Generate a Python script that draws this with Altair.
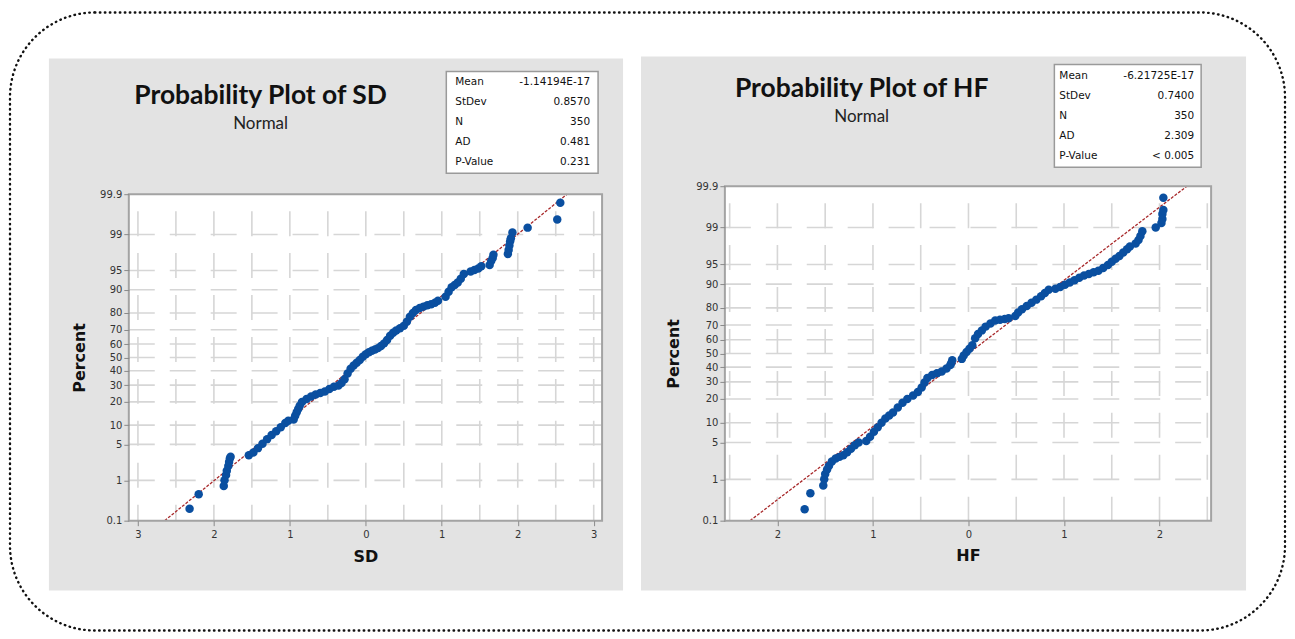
import altair as alt
import pandas as pd
from statistics import NormalDist

# ---------------- data ----------------
percent_ticks = [0.1, 1, 5, 10, 20, 30, 40, 50, 60, 70, 80, 90, 95, 99, 99.9]
grid_percents = [1, 5, 10, 20, 30, 40, 50, 60, 70, 80, 90, 95, 99]

sd_x_ticks = [-3, -2, -1, 0, 1, 2, 3]
sd_x_grid = [-3, -2.5, -2, -1.5, -1, -0.5, 0, 0.5, 1, 1.5, 2, 2.5, 3]
hf_x_ticks = [-2, -1, 0, 1, 2]
hf_x_grid = [-2.5, -2, -1.5, -1, -0.5, 0, 0.5, 1, 1.5, 2, 2.5]

stat_labels = ["Mean", "StDev", "N", "AD", "P-Value"]
sd_stat_values = ["-1.14194E-17", "0.8570", "350", "0.481", "0.231"]
hf_stat_values = ["-6.21725E-17", "0.7400", "350", "2.309", "< 0.005"]
sd_mean, sd_stdev = -1.14194e-17, 0.8570
hf_mean, hf_stdev = -6.21725e-17, 0.7400

sd_values = [
    -2.32, -2.20,
    -1.87, -1.86, -1.84, -1.83, -1.81, -1.80, -1.79, -1.78,
    -1.54, -1.48, -1.42, -1.36, -1.30, -1.24, -1.18, -1.12, -1.06, -1.02,
    -0.95, -0.93, -0.91, -0.89, -0.87, -0.84,
    -0.78, -0.72, -0.66, -0.60, -0.54, -0.48, -0.42, -0.36,
    -0.32, -0.28, -0.24, -0.20, -0.16, -0.12, -0.08, -0.04, 0.00,
    0.04, 0.08, 0.12, 0.16, 0.20, 0.24,
    0.28, 0.32, 0.36, 0.40, 0.45, 0.50, 0.54, 0.58, 0.62,
    0.66, 0.71, 0.76, 0.81, 0.86, 0.91, 0.95,
    1.05, 1.09, 1.13, 1.17, 1.21, 1.25, 1.29,
    1.38, 1.43, 1.48, 1.52,
    1.63, 1.65, 1.67, 1.68,
    1.87, 1.88, 1.89, 1.90, 1.91, 1.93,
    2.13, 2.52, 2.56,
]
sd_percents = [
    0.21, 0.48,
    0.75, 1.0, 1.3, 1.6, 2.0, 2.4, 2.8, 3.0,
    3.2, 3.6, 4.3, 5.1, 6.1, 7.1, 8.1, 9.3, 10.7, 11.5,
    12.0, 13.5, 15.0, 16.5, 18.0, 20.0,
    21.6, 23.0, 24.2, 25.0, 26.0, 27.5, 29.0, 29.8,
    31.5, 34.0, 38.0, 41.5, 44.0, 46.0, 48.0, 50.5, 52.5,
    54.0, 55.0, 56.0, 57.0, 58.5, 60.5,
    63.0, 66.0, 68.0, 69.5, 71.0, 72.5, 75.0, 78.0, 80.0,
    81.5, 82.5, 83.2, 83.8, 84.3, 85.0, 85.8,
    87.5, 89.3, 90.8, 91.5, 92.2, 93.2, 94.3,
    94.8, 95.1, 95.4, 95.8,
    96.0, 96.6, 97.0, 97.4,
    97.5, 97.9, 98.3, 98.6, 98.8, 99.1,
    99.3, 99.55, 99.83,
]

hf_values = [
    -1.715, -1.655,
    -1.52, -1.51, -1.50, -1.48, -1.46,
    -1.43, -1.39, -1.35, -1.31, -1.27, -1.23, -1.19, -1.15,
    -1.07, -1.03, -0.99, -0.95, -0.91,
    -0.87, -0.83, -0.79, -0.74, -0.69, -0.64, -0.58, -0.53,
    -0.49, -0.46, -0.43,
    -0.38, -0.33, -0.28, -0.23, -0.19,
    -0.18, -0.17,
    -0.07, -0.05, -0.02, 0.01, 0.04,
    0.07, 0.10, 0.14, 0.18, 0.23, 0.28,
    0.33, 0.38, 0.42,
    0.49, 0.52, 0.56, 0.61, 0.66, 0.71, 0.76, 0.80, 0.84,
    0.91, 0.96, 1.01, 1.06, 1.11, 1.16, 1.21,
    1.26, 1.31, 1.36, 1.41, 1.46, 1.50, 1.54,
    1.58, 1.62, 1.66, 1.69,
    1.75, 1.78, 1.80, 1.82,
    1.96, 2.02, 2.03, 2.03, 2.04, 2.04,
]
hf_percents = [
    0.20, 0.49,
    0.73, 1.0, 1.3, 1.6, 1.9,
    2.3, 2.6, 2.8, 3.0, 3.4, 3.9, 4.5, 5.0,
    5.3, 6.2, 7.4, 8.6, 10.0,
    11.5, 12.6, 13.8, 15.9, 18.1, 20.0, 21.8, 23.8,
    26.5, 29.5, 32.5,
    34.5, 35.8, 37.0, 39.0, 41.5,
    43.0, 45.0,
    46.0, 48.5, 51.0, 53.5, 56.0,
    61.0, 64.0, 66.5, 69.0, 71.0, 72.8,
    73.3, 73.8, 74.2,
    75.5, 77.5, 79.3, 81.0, 82.6, 84.0, 85.5, 86.8, 88.0,
    88.4, 89.0, 89.8, 90.5, 91.2, 91.9, 92.5,
    92.9, 93.3, 93.7, 94.3, 94.9, 95.5, 96.0,
    96.4, 96.9, 97.3, 97.6,
    97.9, 98.2, 98.5, 98.8,
    99.0, 99.2, 99.35, 99.5, 99.6, 99.8,
]

# ---------------- styling ----------------
PANEL_GRAY = "#e3e3e3"
POINT_BLUE = "#0a4fa0"
LINE_RED = "#a8282a"
GRID = "#d6d6d6"
FRAME = "#a3a3a3"
LABEL_FONT = "DejaVu Sans"
TITLE_FONT = "Lato"

Z_TOP = NormalDist().inv_cdf(0.999) + 1e-9
Z_BOT = NormalDist().inv_cdf(0.001) - 1e-9
y_tick_z = [NormalDist().inv_cdf(round(p / 100.0, 6)) for p in percent_ticks]
H = 335


def one_row():
    return pd.DataFrame({"k": [0]})


def text_layer(txt, x, y, size, weight="normal", align="center", font=LABEL_FONT, color="#111111"):
    return alt.Chart(one_row()).mark_text(
        text=txt, font=font, fontSize=size, fontWeight=weight, align=align,
        baseline="middle", color=color,
    ).encode(x=alt.value(x), y=alt.value(y))


def rect_layer(x, x2, y, y2, **kw):
    return alt.Chart(one_row()).mark_rect(**kw).encode(
        x=alt.value(x), x2=alt.value(x2), y=alt.value(y), y2=alt.value(y2)
    )


def panel(cfg):
    w = cfg["w"]
    ytop = cfg["ytop"]
    xaxis = alt.Axis(
        values=cfg["xticks"], labelExpr="toString(abs(datum.value))", grid=False, domain=False,
        tickColor="#8a8a8a", tickSize=5, tickWidth=1, labelFont=LABEL_FONT, labelFontSize=10,
        labelColor="#333333", labelPadding=4, labelFlush=False, labelOverlap=False,
        title=cfg["name"], titleFont=LABEL_FONT, titleFontSize=16, titleFontWeight="bold",
        titleColor="#111111", titlePadding=cfg["xtp"], zindex=1,
    )
    yaxis = alt.Axis(
        values=y_tick_z, labelExpr="toString(round(cumulativeNormal(datum.value) * 1000) / 10)",
        grid=False, domain=False, tickColor="#8a8a8a", tickSize=5, tickWidth=1,
        labelFont=LABEL_FONT, labelFontSize=10, labelColor="#333333", labelPadding=2,
        labelFlush=False, labelOverlap=False,
        title="Percent", titleFont=LABEL_FONT, titleFontSize=16, titleFontWeight="bold",
        titleColor="#111111", titlePadding=cfg["ytp"], zindex=1,
    )
    X = alt.X("x:Q", scale=alt.Scale(domain=cfg["xdom"], nice=False, zero=False), axis=xaxis)
    Y = alt.Y("z:Q", scale=alt.Scale(domain=[Z_BOT, Z_TOP], range=[H, ytop], nice=False, zero=False),
              axis=yaxis)

    layers = []
    if cfg.get("border"):
        bx, bx2, by, by2 = cfg["border"]
        layers.append(rect_layer(bx, bx2, by, by2, fillOpacity=0, stroke="#111111", strokeWidth=2.4,
                                 strokeDash=[0.5, 4.5], strokeCap="round", cornerRadius=85))
    gx, gx2, gy, gy2 = cfg["gray"]
    layers.append(rect_layer(gx, gx2, gy, gy2, color=PANEL_GRAY))
    layers.append(rect_layer(0, w, ytop, H, color="white"))

    hgrid = alt.Chart(pd.DataFrame({"percent": grid_percents})).transform_calculate(
        z="quantileNormal(datum.percent / 100)"
    ).mark_rule(color=GRID, strokeWidth=1.6, strokeDash=[26, 15]).encode(
        y=Y, x=alt.value(0), x2=alt.value(w)
    )
    vgrid = alt.Chart(pd.DataFrame({"x": cfg["xgrid"]})).mark_rule(
        color=GRID, strokeWidth=1.6, strokeDash=[25, 17], strokeDashOffset=25
    ).encode(x=X, y=alt.value(ytop), y2=alt.value(H))
    layers += [hgrid, vgrid]

    fit = alt.Chart(pd.DataFrame({"percent": [0.1, 99.9]})).transform_calculate(
        z="quantileNormal(datum.percent / 100)"
    ).transform_calculate(
        x=f"{cfg['mean']} + {cfg['stdev']} * datum.z"
    ).mark_line(color=LINE_RED, strokeWidth=1.3, strokeDash=[3, 1.5]).encode(x=X, y=Y)
    layers.append(fit)

    pts = alt.Chart(pd.DataFrame({"x": cfg["values"], "percent": cfg["percents"]})).transform_calculate(
        z="quantileNormal(datum.percent / 100)"
    ).mark_point(filled=True, shape="circle", size=72, color=POINT_BLUE, opacity=1).encode(x=X, y=Y)
    layers.append(pts)

    layers.append(rect_layer(0, w, ytop, H, fillOpacity=0, stroke=FRAME, strokeWidth=2))

    tx, ty, sy = cfg["title_pos"]
    layers.append(text_layer(cfg["title"], tx, ty, 26.5, weight="bold", font=TITLE_FONT, color="#111111"))
    layers.append(text_layer("Normal", tx, sy, 17, font=TITLE_FONT, color="#222222"))

    sx, sx2, sy1, sy2 = cfg["stat_box"]
    layers.append(rect_layer(sx, sx2, sy1, sy2, color="white", stroke="#9a9a9a", strokeWidth=1.5))
    lx, vx = cfg["stat_cols"]
    for lab, val, ry in zip(stat_labels, cfg["stat_values"], cfg["stat_rows"]):
        layers.append(text_layer(lab, lx, ry, 10.5, align="left"))
        layers.append(text_layer(val, vx, ry, 10.5, align="right"))

    return alt.layer(*layers).properties(width=w, height=H)


left = panel({
    "name": "SD", "title": "Probability Plot of SD", "w": 474, "ytop": 8,
    "xdom": [-3.12, 3.11], "xticks": sd_x_ticks, "xgrid": sd_x_grid,
    "values": sd_values, "percents": sd_percents, "mean": sd_mean, "stdev": sd_stdev,
    "gray": (-80, 495, -128, 405), "border": (-119, 1158, -174, 445),
    "title_pos": (132, -90, -62),
    "stat_box": (318, 470, -115, -13), "stat_cols": (327, 462),
    "stat_rows": [-104, -84, -64, -44, -24], "stat_values": sd_stat_values,
    "xtp": 9, "ytp": 12,
})

right = panel({
    "name": "HF", "title": "Probability Plot of HF", "w": 487, "ytop": 0,
    "xdom": [-2.55, 2.54], "xticks": hf_x_ticks, "xgrid": hf_x_grid,
    "values": hf_values, "percents": hf_percents, "mean": hf_mean, "stdev": hf_stdev,
    "gray": (-84, 522, -130, 405),
    "title_pos": (137, -97, -69),
    "stat_box": (330, 477, -122, -19), "stat_cols": (335, 470),
    "stat_rows": [-110, -90, -70, -50, -30], "stat_values": hf_stat_values,
    "xtp": 8, "ytp": 14,
})

chart = alt.hconcat(left, right, spacing=123, bounds="flush").properties(
    padding={"left": 0, "top": 2, "right": 0, "bottom": 0},
    background="white",
).configure_view(stroke=None)

chart.save("out.html", embed_options={"renderer": "svg", "actions": False})
